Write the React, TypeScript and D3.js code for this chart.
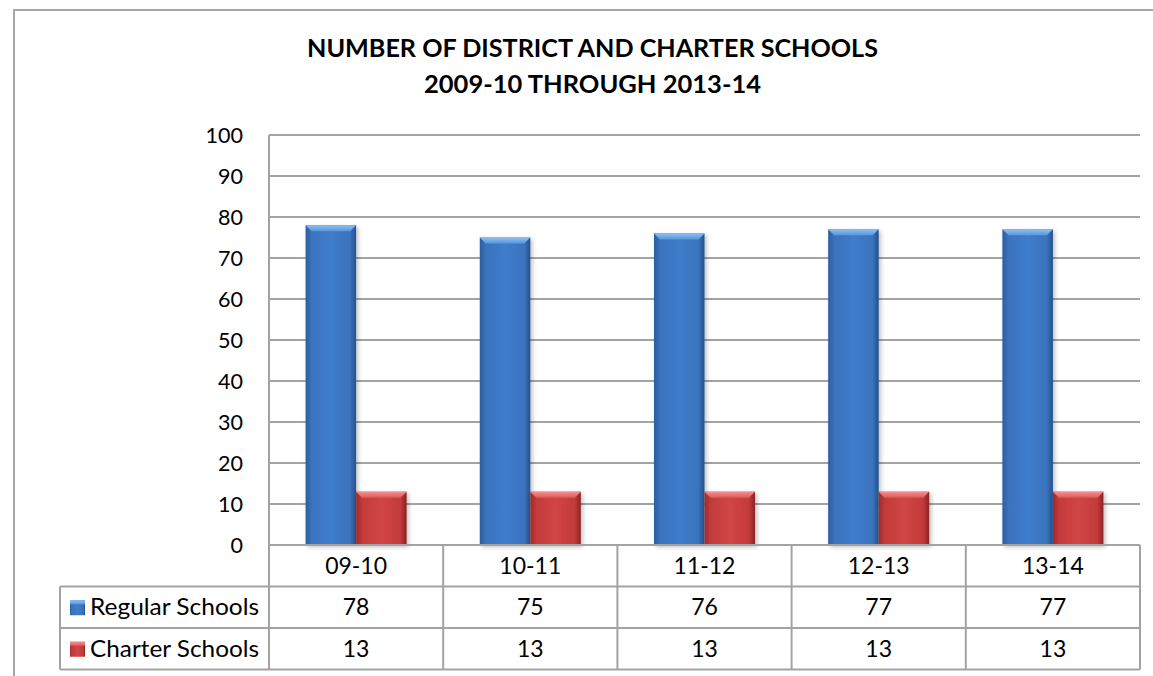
import React from "react";
import * as d3 from "d3";

const categories = ["09-10", "10-11", "11-12", "12-13", "13-14"];
const regularSchools = [78, 75, 76, 77, 77];
const charterSchools = [13, 13, 13, 13, 13];
const seriesNames = ["Regular Schools", "Charter Schools"];
const yTicks = [0, 10, 20, 30, 40, 50, 60, 70, 80, 90, 100];
const titleLines = ["NUMBER OF DISTRICT AND CHARTER SCHOOLS", "2009-10 THROUGH 2013-14"];
const titleWidths = [571, 337];

const W = 1153, H = 676;
const plotL = 269, plotR = 1140, plotT = 135, plotB = 545;
const tableL = 60, rowH = 41.5;
const FONT = "Lato, 'Open Sans', sans-serif";

export default function App() {
  const x = d3.scaleBand<string>().domain(categories).range([plotL, plotR]).paddingInner(0).paddingOuter(0);
  const y = d3.scaleLinear().domain([0, 100]).range([plotB, plotT]);
  const bw = x.bandwidth();
  const barW = bw * 0.29;
  const series = [
    { name: seriesNames[0], values: regularSchools, grad: "gBlue" },
    { name: seriesNames[1], values: charterSchools, grad: "gRed" },
  ];
  const row1 = plotB + rowH, row2 = plotB + 2 * rowH, row3 = plotB + 3 * rowH;
  const grid = "#a3a3a3";

  return (
    <svg width={W} height={H} style={{ position: "absolute", left: 0, top: 0, background: "#fff" }}>
      <defs>
        <linearGradient id="gBlue" x1="0" x2="1" y1="0" y2="0">
          <stop offset="0" stopColor="#2b5d9e" />
          <stop offset="0.12" stopColor="#3a73bd" />
          <stop offset="0.5" stopColor="#3f7ccb" />
          <stop offset="0.88" stopColor="#3a73bd" />
          <stop offset="1" stopColor="#24508a" />
        </linearGradient>
        <linearGradient id="gRed" x1="0" x2="1" y1="0" y2="0">
          <stop offset="0" stopColor="#9e2b2b" />
          <stop offset="0.12" stopColor="#c33a3a" />
          <stop offset="0.5" stopColor="#d14545" />
          <stop offset="0.88" stopColor="#c33a3a" />
          <stop offset="1" stopColor="#8a2424" />
        </linearGradient>
        <linearGradient id="gBlueTop" x1="0" x2="0" y1="0" y2="1">
          <stop offset="0" stopColor="#8cc0f5" />
          <stop offset="1" stopColor="#5a96dc" />
        </linearGradient>
        <linearGradient id="gRedTop" x1="0" x2="0" y1="0" y2="1">
          <stop offset="0" stopColor="#f59090" />
          <stop offset="1" stopColor="#dc5a5a" />
        </linearGradient>
        <filter id="shadow" x="-20%" y="-5%" width="140%" height="115%">
          <feDropShadow dx="2" dy="2" stdDeviation="2" floodColor="#000" floodOpacity="0.25" />
        </filter>
      </defs>
      <rect x={14} y={10} width={W} height={H} fill="#fff" stroke="#a6a6a6" strokeWidth={2} />
      {titleLines.map((t, i) => (
        <text key={i} x={592.5} y={56.5 + i * 36.8} textAnchor="middle" fontFamily={FONT} fontWeight="bold" fontSize={24} textLength={titleWidths[i]} lengthAdjust="spacingAndGlyphs" fill="#000">{t}</text>
      ))}
      {yTicks.map((t) => (
        <g key={t}>
          {t > 0 && <line x1={plotL} x2={plotR} y1={y(t)} y2={y(t)} stroke={grid} strokeWidth={2} />}
          <text x={243} y={y(t)} dy="0.35em" textAnchor="end" fontFamily={FONT} fontSize={21.5} fill="#000">{t}</text>
        </g>
      ))}
      {categories.map((c, ci) => {
        const cx = (x(c) as number) + bw / 2;
        return series.map((s, si) => {
          const bx = cx - barW + si * barW;
          const by = y(s.values[ci]);
          const h = plotB - by;
          const bev = 6;
          return (
            <g key={c + si} filter="url(#shadow)">
              <rect x={bx} y={by} width={barW} height={h} fill={`url(#${s.grad})`} />
              <path d={`M${bx},${by} L${bx + barW},${by} L${bx + barW - bev},${by + bev} L${bx + bev},${by + bev} Z`} fill={`url(#${s.grad}Top)`} />
            </g>
          );
        });
      })}
      <line x1={plotL} x2={plotL} y1={plotT} y2={row3} stroke={grid} strokeWidth={2} />
      <line x1={plotL} x2={plotR} y1={plotB} y2={plotB} stroke={grid} strokeWidth={2} />
      {[row1, row2, row3].map((ry, i) => (
        <line key={i} x1={tableL} x2={plotR} y1={ry} y2={ry} stroke={grid} strokeWidth={2} />
      ))}
      <line x1={tableL} x2={tableL} y1={row1} y2={row3} stroke={grid} strokeWidth={2} />
      {categories.map((c) => (
        <line key={c} x1={(x(c) as number) + bw} x2={(x(c) as number) + bw} y1={plotB} y2={row3} stroke={grid} strokeWidth={2} />
      ))}
      {categories.map((c) => (
        <text key={c} x={(x(c) as number) + bw / 2} y={plotB + rowH / 2} dy="0.35em" textAnchor="middle" fontFamily={FONT} fontSize={23} fill="#000">{c}</text>
      ))}
      {series.map((s, si) => {
        const ry = plotB + rowH * (si + 1);
        return (
          <g key={s.name}>
            <rect x={70} y={ry + rowH / 2 - 7} width={15} height={15} fill={`url(#${s.grad})`} />
            <rect x={70} y={ry + rowH / 2 - 7} width={15} height={4} fill={`url(#${s.grad}Top)`} />
            <text x={90} y={ry + rowH / 2} dy="0.35em" fontFamily={FONT} fontSize={23} textLength={169} lengthAdjust="spacingAndGlyphs" fill="#000">{s.name}</text>
            {categories.map((c, ci) => (
              <text key={c} x={(x(c) as number) + bw / 2} y={ry + rowH / 2} dy="0.35em" textAnchor="middle" fontFamily={FONT} fontSize={23} fill="#000">{s.values[ci]}</text>
            ))}
          </g>
        );
      })}
    </svg>
  );
}
